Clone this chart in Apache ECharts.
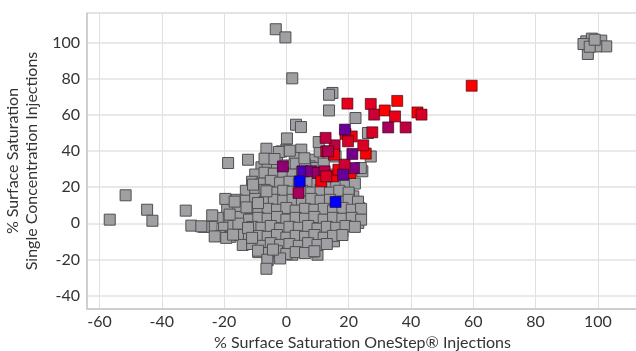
<!DOCTYPE html>
<html>
<head>
<meta charset="utf-8">
<script src="https://cdn.jsdelivr.net/npm/echarts@6/dist/echarts.min.js"></script>
<style>
  html, body { margin: 0; padding: 0; background: #fff; }
  #saturation { width: 636px; height: 351px; }
</style>
</head>
<body>
<div id="saturation"></div>
<script>
// tick labels
const xTicks = [-60, -40, -20, 0, 20, 40, 60, 80, 100]
const yTicks = [-40, -20, 0, 20, 40, 60, 80, 100]

// grey points: [OneStep %, single concentration %]
const greyOutliers = [
  [-3.4, 107.5], [-0.3, 103], [1.9, 80.3], [3.1, 54.6], [4.7, 53.3], [0.2, 47], [10.4, 45],
  [-6.4, 41.3], [-2.4, 39.5], [1.1, 40.2], [-12.3, 35.2], [-18.7, 33.4], [-7, 35.8], [-3.8, 35.6], [5.8, 36],
  [14.8, 72.2], [13.7, 71.2], [13.7, 62.5], [22.2, 58.3], [26.2, 50], [15.8, 37], [27.1, 37], [23.9, 30.6],
  [96.3, 100.8], [98.1, 102.3], [101.1, 101.2], [102.7, 98], [99.5, 98], [96.8, 93.8], [95.4, 99.3], [97.4, 97.8], [99, 101.7],
  [-56.7, 2], [-51.6, 15.5], [-44.7, 7.5], [-43, 1.4], [-32.3, 7], [-30.5, -1.3], [-26.5, -2], [-23.8, 4.4],
  [-23, -7.3], [-19.6, 13.5], [-16.6, 12], [-12.8, 8.8], [-19.3, -8.1], [-17.1, -6.3], [-15.4, -0.2], [-18.2, 4.8],
  [-12.3, -2.6], [-11, -8.1], [-9.1, -15.2], [-6.1, -20.2], [-6.4, -25.2], [-4.3, -14.6], [-9.1, 11.2], [-6.4, 17.7],
  [-10.7, 21.4], [-27.3, -1.7]
]

const greyCluster = [
  [21.5, 14.9], [23.3, 8.5], [23.1, 0.2], [21.2, 3.8], [20.1, 17.7], [18, -4.5], [15.3, -10], [11, -8.1],
  [10, -17.4], [17.4, 7.5], [24.4, 28.8], [19, 24.2], [2.1, -14.6], [1.9, -17.4], [8.5, -15.6], [19.8, 4.8],
  [0, 40.8], [4.8, 40.8], [-1.6, 39.8], [5.9, 35.2], [2.7, 36.2], [8.5, 35.2], [10.7, 39.8], [-1.6, 29.7],
  [-0.5, 26], [2.1, 26], [4.3, 27.9], [7.5, 31.5], [9.6, 30.6], [-4.8, 30.6], [-7, 28.8], [-4.8, 24.2],
  [-10.2, 21.4], [-2.7, 19.6],
  [-8, 31], [-6, 32], [-3, 33.5], [0, 32], [3, 33], [6, 32.5], [12, 33],
  [-10, 27], [-7, 28], [-4, 27.5], [-1, 28], [2, 27], [5, 28.5], [8, 27], [11, 28], [14, 27], [18, 28],
  [-11, 23], [-8, 22], [-5, 23.5], [-2, 22.5], [1, 23], [4, 22], [7, 23.5], [10, 22], [13, 23], [16, 22.5], [19, 21], [22, 22],
  [-13, 18], [-10, 17], [-7, 18.5], [-4, 17], [-1, 18], [2, 17.5], [5, 18], [8, 17], [11, 18.5], [14, 17], [17, 18], [20, 17],
  [-16, 13], [-13, 12.5], [-10, 13.5], [-7, 12], [-4, 13], [-1, 12.5], [2, 13], [5, 12], [8, 13.5], [11, 12.5], [14, 13], [17, 12], [20, 13], [23, 12],
  [-19, 8], [-15, 7.5], [-12, 8.5], [-9, 7], [-6, 8], [-3, 7.5], [0, 8.5], [3, 7], [6, 8], [9, 7.5], [12, 8], [15, 7], [18, 8.5], [21, 7.5], [24, 8],
  [-22, 3], [-18, 2.5], [-15, 3.5], [-12, 2], [-9, 3], [-6, 2.5], [-3, 3.5], [0, 2], [3, 3], [6, 2.5], [9, 3.5], [12, 2], [15, 3], [18, 2.5], [21, 3], [24, 2],
  [-24, -2], [-20, -2.5], [-17, -1.5], [-14, -3], [-11, -2], [-8, -2.5], [-5, -1.5], [-2, -3], [1, -2], [4, -2.5], [7, -1.5], [10, -3], [13, -2], [16, -2.5], [19, -1.5], [22, -2],
  [-21, -7], [-18, -7.5], [-15, -6.5], [-12, -8], [-9, -7], [-6, -7.5], [-3, -6.5], [0, -8], [3, -7], [6, -7.5], [9, -6.5], [12, -8], [15, -7], [18, -6.5],
  [-14, -12], [-11, -11.5], [-8, -12.5], [-5, -11], [-2, -12], [1, -11.5], [4, -12.5], [7, -11], [10, -12], [13, -11.5],
  [-9, -16], [-6, -16.5], [-3, -15.5], [0, -17], [3, -16], [6, -16.5], [9, -15.5],
  [-6, -20.5], [-2, -19.5]
]

// coloured points: [x, y, shade]  shade 0 = blue, 0.5 = purple, 1 = red
const colouredPoints = [
  [3.9, 16.8, 0.65], [-1.1, 31.5, 0.55], [5.3, 28.8, 0.3], [8, 28.8, 0.5], [10.1, 27.9, 0.6],
  [12.3, 28.8, 0.7], [15, 26, 0.95], [16.7, 29.7, 0.95], [20.6, 27.9, 1], [11.2, 23.2, 0.95],
  [21.7, 30.6, 0.5], [18.7, 32.5, 0.8], [21.2, 38.4, 0.45], [25.5, 38.6, 1], [24.7, 43.2, 0.85],
  [15.5, 43.2, 0.75], [12.6, 47.3, 0.75], [12.8, 39.8, 0.8], [15.3, 38, 0.95], [19, 49.5, 1],
  [21, 48.1, 0.95], [19.8, 45.4, 0.85], [18.8, 51.9, 0.4], [19.6, 66.3, 0.9], [27.1, 66.1, 0.88],
  [28.2, 60.2, 0.8], [31.6, 62.5, 1], [35.6, 67.8, 1], [34.9, 59.2, 0.9], [42.1, 61.4, 1],
  [43.4, 60.2, 0.85], [32.7, 53.1, 0.65], [38.3, 53.1, 0.75], [27.6, 50.4, 0.85], [59.5, 76.2, 1],
  [12.8, 26, 0.85], [18.2, 26.9, 0.4], [13.4, 39.8, 0.7],
  [15.8, 11.8, 0], [4.3, 23.2, 0]
]

const chart = echarts.init(document.getElementById('saturation'))

const axisFont = { fontFamily: 'Lato', fontSize: 16, color: '#333' }

const option = {
  animation: false,
  backgroundColor: '#fff',
  grid: {
    left: 87,
    right: -2,
    top: 13,
    bottom: 42,
    outerBoundsMode: 'none',
    containLabel: false,
    show: true,
    borderColor: '#c8c8c8',
    borderWidth: 1
  },
  xAxis: {
    type: 'value',
    min: -64,
    max: 112.9,
    name: '% Surface Saturation OneStep® Injections',
    nameLocation: 'middle',
    nameGap: 25,
    nameTextStyle: axisFont,
    axisLine: { show: true, onZero: false, lineStyle: { color: '#c8c8c8', width: 1.5 } },
    axisTick: { show: false, customValues: xTicks },
    axisLabel: Object.assign({ customValues: xTicks, margin: 5 }, axisFont),
    splitLine: { show: true, lineStyle: { color: '#e0e0e0', width: 1 } }
  },
  yAxis: {
    type: 'value',
    min: -47.5,
    max: 116.5,
    name: '% Surface Saturation\nSingle Concentration Injections',
    nameLocation: 'middle',
    nameGap: 37,
    nameTextStyle: Object.assign({ lineHeight: 19 }, axisFont),
    axisLine: { show: true, onZero: false, lineStyle: { color: '#c8c8c8', width: 1.5 } },
    axisTick: { show: false, customValues: yTicks },
    axisLabel: Object.assign({ customValues: yTicks, margin: 7 }, axisFont),
    splitLine: { show: true, lineStyle: { color: '#e2e2e2', width: 1.5 } }
  },
  visualMap: {
    show: false,
    type: 'continuous',
    seriesIndex: 2,
    dimension: 2,
    min: 0,
    max: 1,
    inRange: { color: ['#0000ff', '#800080', '#ff0000'] }
  },
  series: [
    {
      type: 'scatter',
      data: greyCluster,
      symbol: 'rect',
      symbolSize: 11,
      itemStyle: { color: '#a0a0a4', borderColor: '#4f4f4f', borderWidth: 1, opacity: 1 }
    },
    {
      type: 'scatter',
      data: greyOutliers,
      symbol: 'rect',
      symbolSize: 11,
      itemStyle: { color: '#a0a0a4', borderColor: '#4f4f4f', borderWidth: 1, opacity: 1 }
    },
    {
      type: 'scatter',
      data: colouredPoints,
      symbol: 'rect',
      symbolSize: 11,
      itemStyle: { borderColor: 'rgba(40,0,20,0.6)', borderWidth: 1, opacity: 1 }
    }
  ]
}

chart.setOption(option)
</script>
</body>
</html>
